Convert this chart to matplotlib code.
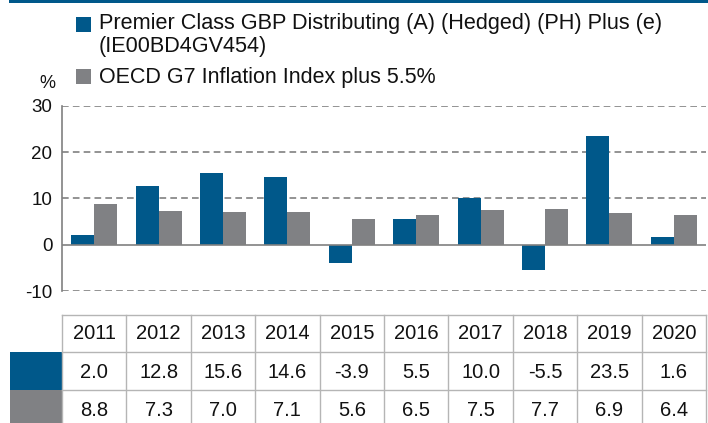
import numpy as np
import matplotlib.pyplot as plt
from matplotlib.patches import Rectangle

plt.rcParams['font.family'] = ['Liberation Sans', 'DejaVu Sans']

# data
years = ["2011", "2012", "2013", "2014", "2015", "2016", "2017", "2018", "2019", "2020"]
fund = [2.0, 12.8, 15.6, 14.6, -3.9, 5.5, 10.0, -5.5, 23.5, 1.6]
index = [8.8, 7.3, 7.0, 7.1, 5.6, 6.5, 7.5, 7.7, 6.9, 6.4]
fund_label = "Premier Class GBP Distributing (A) (Hedged) (PH) Plus (e)\n(IE00BD4GV454)"
index_label = "OECD G7 Inflation Index plus 5.5%"
yticks = [-10, 0, 10, 20, 30]

blue = "#00588a"
grey = "#808184"
line_grey = "#808080"
cell_line = "#b5b5b5"
txt = "#111111"

W, H = 708, 423
fig = plt.figure(figsize=(W / 100, H / 100), dpi=100)

def fx(px):
    return px / W

def fy(py):
    return 1 - py / H

# top band
fig.add_artist(Rectangle((fx(9), fy(3)), 1 - fx(9), 3 / H, transform=fig.transFigure,
                         color=blue, lw=0))

# legend, drawn by hand
fig.add_artist(Rectangle((fx(76), fy(32)), 15 / W, 15 / H, transform=fig.transFigure,
                         color=blue, lw=0))
fig.text(fx(99), fy(35), fund_label, fontsize=15.6, va="center", ha="left",
         linespacing=1.08, color=txt)
fig.add_artist(Rectangle((fx(76), fy(84)), 15 / W, 15 / H, transform=fig.transFigure,
                         color=grey, lw=0))
fig.text(fx(99), fy(77), index_label, fontsize=15.5, va="center", ha="left", color=txt)
fig.text(fx(47), fy(83), "%", fontsize=13, va="center", ha="center", color=txt)

# bar chart
left, right, top, bottom = 62, 706, 106, 291
ax = fig.add_axes([fx(left), fy(bottom), (right - left) / W, (bottom - top) / H])
x = np.arange(len(years))
bw = 0.357
ax.bar(x - bw / 2, fund, bw, color=blue, zorder=3)
ax.bar(x + bw / 2, index, bw, color=grey, zorder=3)
ax.set_xlim(-0.5, len(years) - 0.5)
ax.set_ylim(-10, 30)
ax.set_yticks(yticks)
ax.set_yticklabels([str(t) for t in yticks], fontsize=13.5, color=txt)
ax.tick_params(axis="y", length=0, pad=7)
ax.set_xticks([])
for t in yticks:
    if t == 0:
        ax.axhline(0, color=line_grey, lw=1.2, zorder=4)
    else:
        ax.axhline(t, color=line_grey, lw=1.2, ls=(0, (4, 2.5)), zorder=1)
for s in ["top", "right", "bottom"]:
    ax.spines[s].set_visible(False)
ax.spines["left"].set_color(line_grey)
ax.spines["left"].set_linewidth(1.2)

# table under the chart
ty = 315
tax = fig.add_axes([fx(left), 0, (right - left) / W, (H - ty) / H])
tax.set_xlim(0, len(years))
tax.set_ylim(H - ty, 0)
tax.axis("off")
rows = [0, 37, 75, 115]
colw = (right - left) / len(years)
lead = (left - 10) / colw
tax.add_patch(Rectangle((-lead, rows[1]), lead, rows[2] - rows[1], color=blue, lw=0, clip_on=False))
tax.add_patch(Rectangle((-lead, rows[2]), lead, rows[3] - rows[2], color=grey, lw=0, clip_on=False))
for r in rows[:3]:
    tax.plot([0, len(years)], [r, r], color=cell_line, lw=1, clip_on=False)
for c in range(len(years) + 1):
    tax.plot([c, c], [0, rows[3]], color=cell_line, lw=1, clip_on=False)
for i, yr in enumerate(years):
    tax.text(i + 0.5, 18.5, yr, ha="center", va="center", fontsize=14.5, color=txt)
    tax.text(i + 0.5, 57, f"{fund[i]:.1f}", ha="center", va="center", fontsize=14.5, color=txt)
    tax.text(i + 0.5, 95, f"{index[i]:.1f}", ha="center", va="center", fontsize=14.5, color=txt)

fig.savefig("out.png", dpi=100)
